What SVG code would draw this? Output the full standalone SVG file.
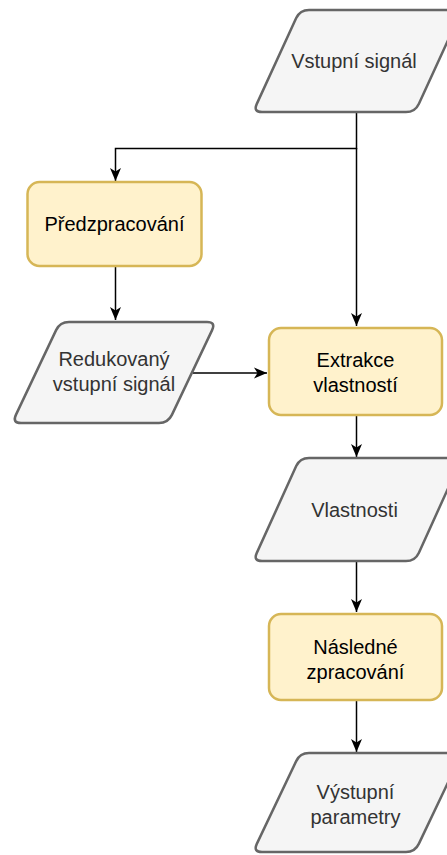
<svg xmlns="http://www.w3.org/2000/svg" width="447" height="855" viewBox="0 0 447 855">
  <style>
    .io { fill: #f5f5f5; stroke: #666666; stroke-width: 2.5; }
    .proc { fill: #fff2cc; stroke: #d6b656; stroke-width: 2.5; }
    .tio { font-family: "Liberation Sans", Arial, sans-serif; font-size: 20px; fill: #333333; text-anchor: middle; }
    .tproc { font-family: "Liberation Sans", Arial, sans-serif; font-size: 20px; fill: #000000; text-anchor: middle; }
    .edge { fill: none; stroke: #000000; stroke-width: 1.5; }
  </style>
  <defs>
    <marker id="arr" markerUnits="userSpaceOnUse" markerWidth="14" markerHeight="12" viewBox="0 0 14 12" refX="13" refY="6" orient="auto">
      <path d="M0,0.5 L13,6 L0,11.5 L3.5,6 Z" fill="#000000"/>
    </marker>
  </defs>

  <g id="connectors">
    <path class="edge" d="M356.5,112 V148.5 H115.5 V181" marker-end="url(#arr)"/>
    <path class="edge" d="M356.5,148 V326" marker-end="url(#arr)"/>
    <path class="edge" d="M115.5,266 V320" marker-end="url(#arr)"/>
    <path class="edge" d="M193,373 H267" marker-end="url(#arr)"/>
    <path class="edge" d="M356.5,416 V457" stroke-width="2" marker-end="url(#arr)"/>
    <path class="edge" d="M356.5,562 V612" marker-end="url(#arr)"/>
    <path class="edge" d="M356.5,701 V752" marker-end="url(#arr)"/>
  </g>

  <g id="vstupni-signal">
    <path class="io" d="M309,10 L453,10 Q462,10 458.2,18.1 L418.8,103.9 Q415,112 406,112 L262,112 Q253,112 256.8,103.9 L296.2,18.1 Q300,10 309,10 Z"/>
    <text class="tio" x="354" y="68">Vstupní signál</text>
  </g>

  <g id="predzpracovani">
    <rect class="proc" x="27.5" y="182" width="174" height="84" rx="12" ry="12"/>
    <text class="tproc" x="114.5" y="231">Předzpracování</text>
  </g>

  <g id="redukovany-signal">
    <path class="io" d="M69,322 L207,322 Q216,322 212.1,330.1 L171.9,414.9 Q168,423 159,423 L21,423 Q12,423 15.9,414.9 L56.1,330.1 Q60,322 69,322 Z"/>
    <text class="tio" x="114" y="366">Redukovaný</text>
    <text class="tio" x="114" y="391">vstupní signál</text>
  </g>

  <g id="extrakce">
    <rect class="proc" x="269" y="328" width="173" height="87" rx="12" ry="12"/>
    <text class="tproc" x="355.5" y="366.5">Extrakce</text>
    <text class="tproc" x="355.5" y="392">vlastností</text>
  </g>

  <g id="vlastnosti">
    <path class="io" d="M309,458 L453,458 Q462,458 458.2,466.1 L418.8,552.9 Q415,561 406,561 L262,561 Q253,561 256.8,552.9 L296.2,466.1 Q300,458 309,458 Z"/>
    <text class="tio" x="354.5" y="517">Vlastnosti</text>
  </g>

  <g id="nasledne">
    <rect class="proc" x="269" y="614" width="173" height="86" rx="12" ry="12"/>
    <text class="tproc" x="355.5" y="654">Následné</text>
    <text class="tproc" x="355.5" y="679">zpracování</text>
  </g>

  <g id="vystupni-parametry">
    <path class="io" d="M309,753 L453,753 Q462,753 458.2,761.1 L418.8,843.9 Q415,852 406,852 L262,852 Q253,852 256.8,843.9 L296.2,761.1 Q300,753 309,753 Z"/>
    <text class="tio" x="355.5" y="799">Výstupní</text>
    <text class="tio" x="355.5" y="824">parametry</text>
  </g>
</svg>
